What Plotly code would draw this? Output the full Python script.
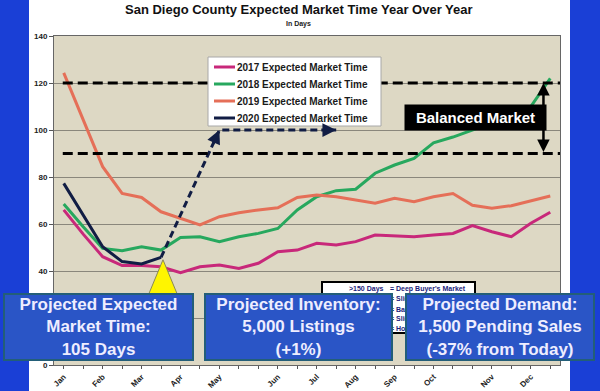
import plotly.graph_objects as go

# ---------------- data ----------------
periods = ["Jan", "Jan-2", "Feb", "Feb-2", "Mar", "Mar-2", "Apr", "Apr-2", "May", "May-2",
           "May-3", "Jun", "Jun-2", "Jul", "Jul-2", "Aug", "Aug-2", "Sep", "Sep-2", "Oct",
           "Oct-2", "Oct-3", "Nov", "Nov-2", "Dec", "Dec-2"]
tick_text = ["Jan", "", "Feb", "", "Mar", "", "Apr", "", "May", "", "", "Jun", "", "Jul", "",
             "Aug", "", "Sep", "", "Oct", "", "", "Nov", "", "Dec", ""]

mt_2017 = [66.0, 55.7, 46.1, 42.3, 42.3, 41.8, 39.3, 41.8, 42.5, 41.1, 43.3, 48.2, 48.9,
           51.8, 51.1, 52.5, 55.3, 54.9, 54.6, 55.3, 56.0, 59.3, 56.7, 54.6, 60.3, 65.0]
mt_2018 = [68.5, 58.8, 49.6, 48.6, 50.3, 48.9, 54.3, 54.6, 52.5, 54.6, 56.0, 58.1, 66.0,
           71.6, 74.2, 74.8, 81.6, 85.1, 87.9, 94.5, 97.0, 100.0, 103.0, 106.0, 110.0, 122.0]
mt_2019 = [124.3, 104.5, 84.4, 73.0, 71.3, 65.2, 62.4, 59.6, 63.1, 64.8, 66.0, 66.9, 71.3,
           72.3, 71.6, 70.2, 68.8, 70.9, 69.5, 71.6, 73.0, 68.0, 66.7, 67.8, 69.9, 71.9]
mt_2020 = [77.3, 63.5, 50.3, 44.0, 43.0, 45.8]

proj_periods = ["Mar-2", "May", "Jul-2"]
proj_values = [45.8, 100, 100]

balanced_market = [90, 120]

series_names = ["2017 Expected Market Time", "2018 Expected Market Time",
                "2019 Expected Market Time", "2020 Expected Market Time"]
series_values = [mt_2017, mt_2018, mt_2019, mt_2020]
series_colors = ["#C8287A", "#27A85E", "#E56F58", "#111D44"]

box_texts = [
    "Projected Expected<br>Market Time:<br>105 Days",
    "Projected Inventory:<br>5,000 Listings<br>(+1%)",
    "Projected Demand:<br>1,500 Pending Sales<br>(-37% from Today)",
]

table_head = ">150 Days"
table_rows = ["= Deep Buyer's Market", "= Slight Buyer's Market", "= Balanced Market",
              "= Slight Seller's Market", "= Hot Seller's Market"]

FONT = "Arial, Liberation Sans, sans-serif"
NAVY = "#111D44"

fig = go.Figure()
for name, vals, col in zip(series_names, series_values, series_colors):
    fig.add_trace(go.Scatter(
        x=periods[:len(vals)], y=vals, mode="lines", name=name, showlegend=False,
        line=dict(color=col, width=3), hoverinfo="skip"))

# projection (dashed)
fig.add_trace(go.Scatter(x=proj_periods, y=proj_values, mode="lines", showlegend=False,
                         line=dict(color=NAVY, width=3, dash="7px,4px"), hoverinfo="skip"))

# ---------------- layout helpers ----------------
L, R, T, B = 54, 40, 36, 26
W, H = 600, 391
pw, ph = W - L - R, H - T - B


def px(xpix):
    return (xpix - L) / pw


def py(ypix):
    return (H - B - ypix) / ph


shapes = []
annotations = []

# blue side strips
shapes.append(dict(type="rect", xref="paper", yref="paper", x0=px(-2), x1=px(29), y0=py(H + 2), y1=py(-2),
                   fillcolor="#1A3FD6", line=dict(width=0), layer="below"))
shapes.append(dict(type="rect", xref="paper", yref="paper", x0=px(570), x1=px(W + 2), y0=py(H + 2), y1=py(-2),
                   fillcolor="#1A3FD6", line=dict(width=0), layer="below"))

# balanced-market dashed lines
for lvl in balanced_market:
    shapes.append(dict(type="line", xref="x", yref="y", x0=-0.05, x1=25.5, y0=lvl, y1=lvl,
                       line=dict(color="black", width=3, dash="10px,5px")))

# projection arrowheads
idx = {p: i for i, p in enumerate(periods)}
for a, b in [(0, 1), (1, 2)]:
    x0, x1 = idx[proj_periods[a]], idx[proj_periods[b]]
    y0, y1 = proj_values[a], proj_values[b]
    annotations.append(dict(x=x1, y=y1, xref="x", yref="y", axref="x", ayref="y",
                            ax=x1 - 0.12 * (x1 - x0), ay=y1 - 0.12 * (y1 - y0),
                            text="", showarrow=True, arrowhead=2, arrowsize=1.1,
                            arrowwidth=2.5, arrowcolor=NAVY, standoff=0))

# manual legend
leg_x0, leg_x1, leg_y0, leg_y1 = 208, 381, 57, 126
shapes.append(dict(type="rect", xref="paper", yref="paper", x0=px(leg_x0), x1=px(leg_x1),
                   y0=py(leg_y1), y1=py(leg_y0), fillcolor="white",
                   line=dict(color="#A8A8A8", width=1), layer="above"))
leg_rows = [67, 84, 101, 118]
for name, col, yy in zip(series_names, series_colors, leg_rows):
    shapes.append(dict(type="line", xref="paper", yref="paper", x0=px(214), x1=px(235),
                       y0=py(yy), y1=py(yy), line=dict(color=col, width=3), layer="above"))
    annotations.append(dict(x=px(235), y=py(yy), xref="paper", yref="paper",
                            text="<b>" + name + "</b>", showarrow=False,
                            xanchor="left", yanchor="middle",
                            font=dict(family=FONT, size=10, color="#1A1A1A")))

# yellow triangle pointing to the last 2020 value
last_i = len(mt_2020) - 1
apex_y = mt_2020[-1] - 1.0
shapes.append(dict(type="path", xref="x", yref="y",
                   path=f"M {last_i + 0.1} {apex_y} L {last_i + 0.85} {apex_y - 15} L {last_i - 0.65} {apex_y - 15} Z",
                   fillcolor="#FFF500", line=dict(color="#8A8A55", width=1), layer="above"))

# small legend table box (mostly hidden behind the blue boxes)
shapes.append(dict(type="rect", xref="paper", yref="paper", x0=px(322), x1=px(475), y0=py(333), y1=py(282),
                   fillcolor="white", line=dict(color="black", width=2), layer="above"))
row_y = [289, 299, 309, 319, 328]
annotations.append(dict(x=px(347), y=py(row_y[0]), xref="paper", yref="paper",
                        text="<b>" + table_head + "</b>",
                        showarrow=False, xanchor="left", yanchor="middle",
                        font=dict(family=FONT, size=7, color="#1B1B7A")))
for txt, yy in zip(table_rows, row_y):
    annotations.append(dict(x=px(388), y=py(yy), xref="paper", yref="paper", text="<b>" + txt + "</b>",
                            showarrow=False, xanchor="left", yanchor="middle",
                            font=dict(family=FONT, size=7, color="#1B1B7A")))

# Balanced Market label
annotations.append(dict(x=px(475.5), y=py(117.5), xref="paper", yref="paper",
                        xanchor="center", yanchor="middle",
                        text="<b>Balanced Market</b>", showarrow=False, bgcolor="black",
                        width=141, height=25, borderpad=0,
                        font=dict(family=FONT, size=15, color="white")))
# double arrow
annotations.append(dict(x=24.65, y=balanced_market[1], ax=24.65, ay=balanced_market[0],
                        xref="x", yref="y", axref="x", ayref="y", text="", showarrow=True,
                        arrowhead=2, arrowside="end+start", arrowsize=1, arrowwidth=2.5,
                        arrowcolor="black", standoff=0, startstandoff=0))

# bottom blue boxes
box_spans = [(3, 194), (204, 393), (405, 595)]
for (bx0, bx1), txt in zip(box_spans, box_texts):
    annotations.append(dict(x=px((bx0 + bx1) / 2), y=py(327), xref="paper", yref="paper",
                            xanchor="center", yanchor="middle",
                            text="<b>" + txt + "</b>", showarrow=False,
                            width=bx1 - bx0 - 4, height=64, borderpad=0,
                            bgcolor="#2A55C6", bordercolor="#235E78", borderwidth=2,
                            align="center", valign="middle",
                            font=dict(family=FONT, size=17, color="#EEEDFF")))

# subtitle
annotations.append(dict(x=px(298), y=py(24), xref="paper", yref="paper", text="<b>In Days</b>",
                        xanchor="center", yanchor="middle",
                        showarrow=False, font=dict(family=FONT, size=7, color="#222")))

fig.update_layout(
    width=W, height=H,
    margin=dict(l=L, r=R, t=T, b=B),
    paper_bgcolor="white",
    plot_bgcolor="#DDD8C4",
    title=dict(text="<b>San Diego County Expected Market Time Year Over Year</b>",
               x=0.498, xref="container", y=1 - 9 / H, yref="container",
               xanchor="center", yanchor="middle",
               font=dict(family=FONT, size=13, color="#111")),
    xaxis=dict(type="category", categoryorder="array", categoryarray=periods,
               tickmode="array", tickvals=periods, ticktext=tick_text,
               range=[-0.5, len(periods) - 0.5], tickangle=-45,
               tickfont=dict(family=FONT, size=8, color="#222", weight="bold"),
               ticks="outside", ticklen=3, tickcolor="#555",
               showgrid=False, showline=True, linecolor="#666", linewidth=1, mirror=True,
               automargin=False, fixedrange=True),
    yaxis=dict(range=[0, 140], tickmode="array", tickvals=[0, 20, 40, 60, 80, 100, 120, 140],
               tickfont=dict(family=FONT, size=8, color="#222", weight="bold"),
               ticks="outside", ticklen=4, tickcolor="#555",
               showgrid=True, gridcolor="#8A877C", gridwidth=1, zeroline=False,
               showline=True, linecolor="#666", linewidth=1, mirror=True,
               automargin=False, fixedrange=True),
    shapes=shapes,
    annotations=annotations,
    showlegend=False,
)

fig.write_html("out.html", config={"displayModeBar": False},
               post_script="document.body.style.margin='0';document.body.style.overflow='hidden';")
